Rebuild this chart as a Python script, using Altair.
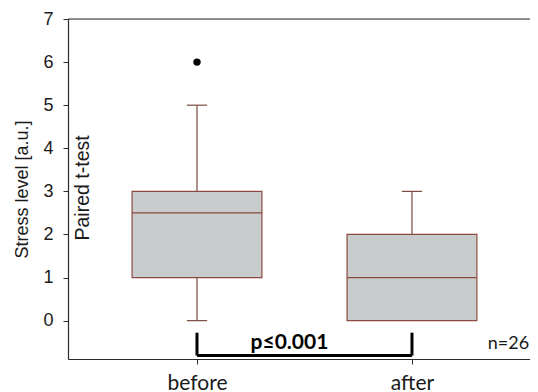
import altair as alt
import pandas as pd

groups = ["before", "after"]
positions = [1, 2]
q1 = [1.0, 0.0]
median = [2.5, 1.0]
q3 = [3.0, 2.0]
whisk_lo = [0.0, 0.0]
whisk_hi = [5.0, 3.0]
outlier_pos = [1]
outlier_val = [6.0]
y_ticks = [0, 1, 2, 3, 4, 5, 6, 7]
bracket_top = -0.28
bracket_bottom = -0.81
p_label = "p≤0.001"
n_label = "n=26"

XDOM = [0.4, 2.549]
YDOM = [-0.89, 7]
HALF = 0.302
CAP = 0.047

box = pd.DataFrame({"g": groups, "pos": positions, "q1": q1, "med": median, "q3": q3,
                    "lo": whisk_lo, "hi": whisk_hi})
box["l"] = box["pos"] - HALF
box["r"] = box["pos"] + HALF
box["cl"] = box["pos"] - CAP
box["cr"] = box["pos"] + CAP

xs = alt.Scale(domain=XDOM, nice=False, zero=False)
ys = alt.Scale(domain=YDOM, nice=False, zero=False)

label_expr = "datum.value == 1 ? 'before' : datum.value == 2 ? 'after' : ''"

x_axis = alt.Axis(values=positions, labelExpr=label_expr, title=None, grid=False,
                  domainColor="#2b2b2b", tickColor="#2b2b2b", tickSize=5,
                  labelFont="Lato", labelFontSize=21, labelColor="#1a1a1a", labelPadding=8,
                  domainWidth=1.2)
y_axis = alt.Axis(values=y_ticks, title="Stress level [a.u.]", grid=False,
                  domainColor="#2b2b2b", tickColor="#2b2b2b", tickSize=5,
                  labelFont="Liberation Sans", labelFontSize=18, labelColor="#1a1a1a",
                  labelPadding=10, titleFont="Liberation Sans", titleFontSize=18,
                  titleFontWeight="normal", titleColor="#1a1a1a", titlePadding=11,
                  domainWidth=1.2)

base = alt.Chart(box)

bars = base.mark_bar(fill="#c9cccd", stroke="#8b4a3f", strokeWidth=1.2).encode(
    x=alt.X("l:Q", scale=xs, axis=x_axis), x2="r:Q",
    y=alt.Y("q1:Q", scale=ys, axis=y_axis), y2="q3:Q")

med = base.mark_rule(color="#8b4a3f", strokeWidth=1.2).encode(
    x=alt.X("l:Q", scale=xs), x2="r:Q", y=alt.Y("med:Q", scale=ys))

whisk_hi_r = base.mark_rule(color="#7a4a40", strokeWidth=1.2).encode(
    x=alt.X("pos:Q", scale=xs), y=alt.Y("q3:Q", scale=ys), y2="hi:Q")
cap_hi = base.mark_rule(color="#7a4a40", strokeWidth=1.2).encode(
    x=alt.X("cl:Q", scale=xs), x2="cr:Q", y=alt.Y("hi:Q", scale=ys))

low = base.transform_filter("datum.lo < datum.q1")
whisk_lo_r = low.mark_rule(color="#7a4a40", strokeWidth=1.2).encode(
    x=alt.X("pos:Q", scale=xs), y=alt.Y("lo:Q", scale=ys), y2="q1:Q")
cap_lo = low.mark_rule(color="#7a4a40", strokeWidth=1.2).encode(
    x=alt.X("cl:Q", scale=xs), x2="cr:Q", y=alt.Y("lo:Q", scale=ys))

out = alt.Chart(pd.DataFrame({"pos": outlier_pos, "v": outlier_val})).mark_circle(
    color="black", opacity=1, size=55).encode(
    x=alt.X("pos:Q", scale=xs), y=alt.Y("v:Q", scale=ys))

top = alt.Chart(pd.DataFrame({"v": [y_ticks[-1]]})).mark_rule(
    color="#2b2b2b", strokeWidth=1.2).encode(y=alt.Y("v:Q", scale=ys))

br = pd.DataFrame({"a": [positions[0]], "b": [positions[1]],
                   "t": [bracket_top], "btm": [bracket_bottom]})
bb = alt.Chart(br)
br_h = bb.mark_rule(color="black", strokeWidth=3).encode(
    x=alt.X("a:Q", scale=xs), x2="b:Q", y=alt.Y("btm:Q", scale=ys))
br_l = bb.mark_rule(color="black", strokeWidth=3).encode(
    x=alt.X("a:Q", scale=xs), y=alt.Y("t:Q", scale=ys), y2="btm:Q")
br_r = bb.mark_rule(color="black", strokeWidth=3).encode(
    x=alt.X("b:Q", scale=xs), y=alt.Y("t:Q", scale=ys), y2="btm:Q")

ptxt = alt.Chart(pd.DataFrame({"x": [1.43], "y": [-0.52], "t": [p_label]})).mark_text(
    font="Lato", fontSize=21, fontWeight="bold", color="black").encode(
    x=alt.X("x:Q", scale=xs), y=alt.Y("y:Q", scale=ys), text="t:N")

ntxt = alt.Chart(pd.DataFrame({"x": [2.545], "y": [-0.55], "t": [n_label]})).mark_text(
    font="Lato", fontSize=18, color="#1a1a1a", align="right").encode(
    x=alt.X("x:Q", scale=xs), y=alt.Y("y:Q", scale=ys), text="t:N")

ttxt = alt.Chart(pd.DataFrame({"x": [0.468], "y": [3.08], "t": ["Paired t-test"]})).mark_text(
    font="Liberation Sans", fontSize=19.5, color="#1a1a1a", angle=270).encode(
    x=alt.X("x:Q", scale=xs), y=alt.Y("y:Q", scale=ys), text="t:N")

chart = alt.layer(bars, med, whisk_hi_r, cap_hi, whisk_lo_r, cap_lo, out, top,
                  br_h, br_l, br_r, ptxt, ntxt, ttxt).properties(
    width=462, height=340,
    autosize=alt.AutoSizeParams(type="none"),
    padding={"left": 60, "top": 11, "right": 0, "bottom": 33},
).configure_view(stroke="#f2d8d2", strokeWidth=1).configure(background="white")

chart.save("out.html", embed_options={"renderer": "svg", "actions": False})
